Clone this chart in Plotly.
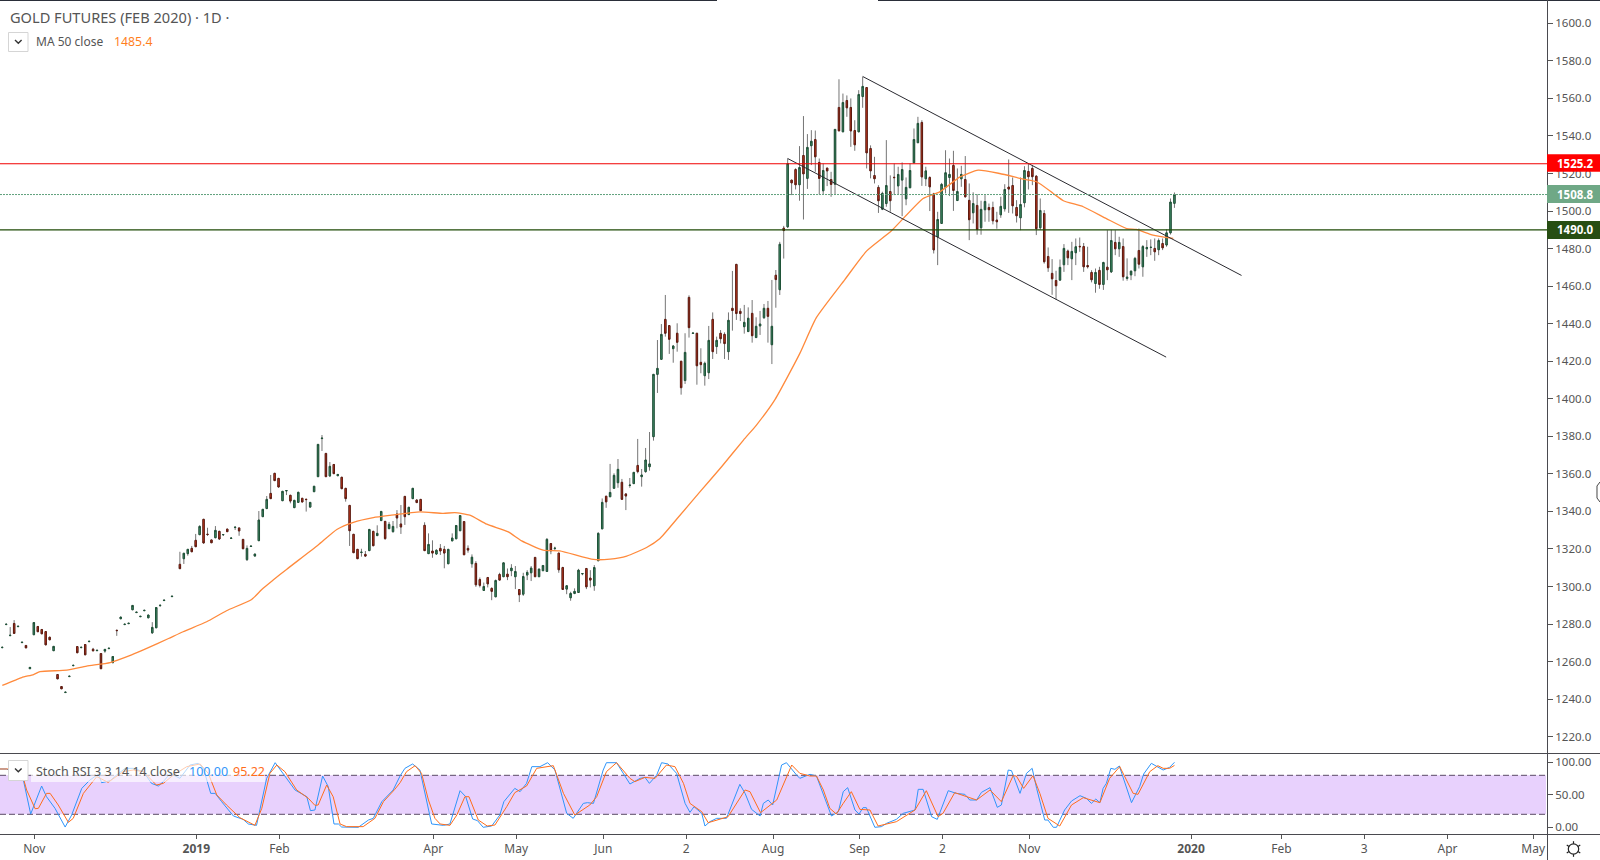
import math
import plotly.graph_objects as go

N = None
# Daily candles (bar number = position in the list)
open_ = [
1267.4,1279.7,1273.8,1280.3,1278.6,1270.1,1268.6,1256.2,1274.3,1278.7,
1277.1,1276.0,1273.0,1265.8,1253.1,1246.7,1243.5,1252.0,1257.8,1268.0,
1267.4,1269.1,1270.6,1266.6,1265.8,1264.3,1265.6,1266.9,1259.4,1276.7,
1282.8,1279.7,1280.2,1287.6,1286.1,1283.9,1287.1,1283.3,1275.3,1278.0,
1289.8,1292.5,N,1294.6,N,1311.8,1314.8,1317.5,1320.3,1324.6,
1327.6,1335.8,1327.9,1324.8,1326.0,1329.4,1327.5,1330.6,1325.6,1331.4,
1331.2,1325.1,1314.3,1321.3,1316.2,1324.4,1337.2,1341.5,1349.6,1360.3,
1357.6,1345.7,1350.9,1348.6,1342.0,1344.8,1347.0,1346.5,1342.3,1350.5,
1358.5,1378.8,1370.9,1358.9,1365.0,1359.0,1358.2,1352.3,1343.2,1327.8,
1319.8,1318.1,1317.1,1319.1,1329.4,1327.1,1335.1,1334.7,1330.8,1329.2,
1338.6,1333.3,1348.0,1338.3,1346.8,1346.1,1346.4,1332.6,1317.5,1318.9,
1317.3,1320.3,1319.8,1312.1,1324.3,1325.4,1329.7,1334.6,1320.3,1312.1,
1312.3,1303.7,1297.9,1304.8,1299.0,1294.5,1306.4,1305.2,1306.6,1308.4,
1305.2,1298.4,1295.9,1306.1,1307.3,1315.5,1305.2,1308.4,1308.0,1322.9,
1320.2,1317.8,1310.1,1298.6,1294.0,1296.3,1296.8,1306.7,1309.6,1304.5,
1300.4,1313.7,1330.7,1348.1,1347.8,1352.3,1355.3,1355.5,1349.3,1353.8,
1354.8,1364.5,1358.5,1361.2,1363.8,1379.8,1413.0,1421.0,1442.3,1439.0,
1426.7,1434.9,1420.0,1409.7,1454.0,1434.8,1434.9,1419.4,1412.3,1413.9,
1442.3,1427.8,1434.9,1434.3,1425.1,1448.2,1471.6,1446.6,1438.4,1435.8,
1445.5,1432.6,1438.8,1443.2,1448.2,1428.8,1465.8,1458.1,1490.9,1491.6,
1516.5,1522.1,1514.0,1529.6,1517.4,1534.8,1538.1,1525.9,1510.8,1522.9,
1516.8,1514.3,1555.2,1542.2,1558.9,1555.2,1542.9,1542.2,1561.0,1565.8,
1533.3,1518.9,1512.6,1501.0,1504.0,1510.4,1518.0,1513.4,1516.5,1506.5,
1512.4,1525.7,1536.4,1547.2,1517.2,1517.9,1509.2,1486.3,1493.4,1512.6,
1517.9,1524.3,1505.6,1517.2,1516.8,1505.7,1499.1,1503.0,1491.1,1500.7,
1501.9,1501.9,1495.2,1498.0,1501.2,1512.8,1513.6,1501.9,1496.4,1504.4,
1521.1,1522.7,1518.6,1491.1,1498.7,1475.8,1466.8,1463.0,1463.2,1471.4,
1478.7,1474.6,1477.8,1481.2,1481.1,1471.0,1467.3,1461.4,1468.4,1460.9,
1470.1,1467.6,1483.3,1479.9,1481.1,1464.1,1466.0,1468.2,1479.0,1470.3,
1479.9,1480.6,1480.1,1479.4,1482.7,1481.9,1488.4,1504.1]
high = [
N,N,1278.4,1282.1,N,N,N,N,N,N,
N,N,N,N,N,N,N,N,N,N,
N,N,N,1267.3,N,N,N,N,N,N,
N,N,N,N,N,N,N,N,1281.0,N,
N,N,N,N,N,1318.5,N,N,1321.6,1328.0,
1332.6,N,1331.3,N,1332.2,N,N,N,N,N,
N,N,1321.9,N,N,1340.2,N,1348.2,1359.4,N,
N,N,1351.2,N,N,N,N,N,N,N,
N,1380.7,N,1366.3,N,N,N,N,N,N,
N,1320.1,1318.9,N,N,1332.6,N,N,1334.4,1334.9,
1340.7,1343.4,N,N,N,N,N,1334.2,1328.3,1324.6,
1319.8,1322.6,1321.6,N,1328.3,N,N,N,1321.9,1317.1,
1313.5,1304.8,1302.1,N,1299.5,1303.7,1307.3,N,1309.6,1311.9,
1310.9,N,1307.3,1308.7,1310.9,N,N,N,1325.8,N,
1321.2,N,1310.5,N,1297.2,1299.0,1309.4,1307.1,N,1308.7,
1311.4,1328.9,1346.9,N,1365.3,1360.3,1367.9,1357.3,1349.6,1357.8,
N,1378.6,1362.6,1373.8,1382.3,N,1431.3,1439.8,1455.3,N,
1428.6,1440.2,N,1434.9,1455.1,N,N,1426.9,1419.8,1438.8,
1446.0,1433.1,1436.6,1435.4,1446.0,1468.1,N,1448.2,1450.0,1448.7,
1452.6,1443.4,1446.8,1450.5,1452.1,1463.3,1468.6,1483.6,1492.1,1528.0,
N,1522.8,1534.6,1550.6,1541.0,1543.1,1542.9,1528.0,1525.3,N,
1520.9,N,1570.2,1562.6,1561.6,1560.0,1548.4,1564.4,1571.5,N,
1535.0,1528.9,1513.8,1510.3,1537.8,1519.0,1525.3,1523.6,1525.9,1517.9,
1525.3,1544.0,1550.2,1548.4,1523.6,1518.5,1509.7,1499.6,1515.0,1532.4,
1528.0,1532.1,1522.7,1524.1,1529.3,1514.7,1510.0,1509.0,1505.5,1508.5,
1504.0,1505.0,1499.6,1507.6,1514.3,1527.5,1517.9,1505.8,1517.9,1523.9,
1525.4,1524.5,1519.0,1506.7,1500.5,1480.6,1474.4,1468.2,1474.2,1482.4,
1479.5,1483.6,1485.4,1485.9,1483.0,1481.0,1468.5,1469.4,1470.3,1473.0,
1489.8,1490.0,1489.8,1486.3,1485.4,1474.8,1468.2,1475.6,1490.7,1481.9,
1484.5,1484.9,1485.4,1485.4,1485.4,1490.2,1506.7,1509.9]
low = [
N,N,N,N,N,N,N,N,N,N,
N,N,N,N,N,N,N,N,N,N,
N,N,N,N,N,N,1264.7,N,N,1273.7,
N,N,N,N,N,N,N,N,1274.8,N,
1289.2,N,N,N,N,N,1312.0,1316.4,N,N,
N,1322.8,1326.9,N,1325.7,1324.8,1327.0,N,N,1330.1,
1327.0,N,1313.6,N,N,N,N,N,N,N,
1352.7,N,1348.7,1344.3,N,N,N,1339.9,1342.0,N,
N,1372.2,N,1358.3,N,N,N,1345.2,1321.6,N,
N,1315.9,1315.7,N,N,N,N,1324.9,N,1328.7,
1331.0,1328.0,1332.8,N,N,N,N,N,N,1315.3,
1316.8,1316.8,1309.7,N,N,N,N,N,1318.0,1310.0,
1299.8,1299.5,N,1299.5,1292.7,N,N,N,1303.4,1305.5,
1298.6,1291.7,1295.0,1303.4,1302.9,N,N,N,N,1317.2,
1319.2,1307.3,N,1295.9,1292.4,1295.9,N,1306.0,1298.6,1299.5,
1297.7,N,N,1341.9,N,N,1352.6,N,1340.7,1352.6,
N,1360.3,1353.2,1360.6,1361.7,1377.7,1403.1,N,1433.1,1423.9,
1419.2,1425.1,1402.2,1407.9,1432.6,N,1407.5,1413.6,1407.0,1410.5,
1421.2,1423.9,1429.5,1421.2,1420.7,1436.3,1442.0,1441.4,1434.7,N,
1429.9,N,1434.0,1442.5,1429.9,1418.5,1448.5,1455.3,1474.7,1491.0,
1508.5,1511.5,1505.5,1495.5,1511.8,1524.5,1520.9,1508.8,1508.8,1513.3,
1507.6,1508.8,N,N,1550.2,1534.2,1532.1,N,1555.0,1522.7,
1517.4,1514.7,1499.0,1500.5,1502.3,1499.6,1508.5,1509.0,1497.3,1503.1,
N,N,N,1513.4,1513.3,1500.0,1477.4,1471.2,N,1509.4,
1508.0,1500.1,1505.4,1512.9,1507.2,1484.5,1493.4,1487.4,1487.4,1494.3,
1494.3,1492.9,1490.6,1496.4,1499.7,1499.0,1498.7,1493.9,1489.8,1502.0,
1511.5,1513.8,1487.2,1490.0,1472.0,1467.6,1455.4,1452.9,1463.0,1467.6,
1471.2,1463.2,1471.2,1478.3,1467.6,1469.4,1462.0,1456.5,1458.6,1458.0,
1463.2,1467.0,1476.5,1475.6,1462.9,1462.9,1463.2,1465.3,1469.4,1465.0,
1475.6,1476.5,1473.5,1476.5,1479.2,1481.0,1487.5,1501.7]
close = [
1267.6,1279.9,1274.0,1275.0,1278.8,1270.3,1267.3,1256.9,1280.8,1275.9,
1274.8,1268.9,1271.6,1268.1,1250.8,1245.5,1243.7,1252.2,1258.0,1264.7,
1267.6,1263.6,1270.8,1265.7,1266.0,1256.2,1266.5,1267.1,1262.7,1276.5,
1283.7,1279.9,1280.4,1289.9,1286.3,1284.1,1287.3,1284.8,1278.2,1288.8,
1290.0,1292.7,N,1294.8,N,1309.5,1317.7,1319.8,1318.5,1321.2,
1332.0,1323.2,1327.7,1323.3,1329.9,1325.3,1327.7,1329.2,1325.8,1331.6,
1329.6,1320.1,1320.3,1321.5,1317.3,1335.4,1341.1,1346.4,1346.8,1356.4,
1353.0,1350.7,1351.1,1345.5,1345.9,1350.2,1345.0,1346.3,1344.8,1353.4,
1375.7,1379.0,1358.5,1364.0,1360.1,1359.7,1352.1,1346.8,1329.7,1318.0,
1314.8,1318.3,1316.2,1330.4,1321.7,1328.3,1340.0,1325.5,1333.1,1332.0,
1336.5,1331.7,1337.2,1342.2,1352.3,1344.7,1340.4,1319.1,1322.4,1317.8,
1319.3,1318.9,1317.8,1319.8,1325.8,1332.5,1337.8,1316.9,1319.4,1315.6,
1300.9,1300.6,1300.0,1301.4,1297.4,1303.2,1303.4,1312.6,1305.2,1309.8,
1308.0,1295.6,1305.3,1307.5,1309.8,1305.2,1309.3,1311.2,1325.1,1319.0,
1320.4,1308.9,1298.4,1300.4,1296.3,1297.4,1308.7,1306.9,1299.8,1303.4,
1310.1,1328.3,1344.8,1345.1,1350.1,1359.2,1362.4,1346.4,1348.2,1354.0,
1360.8,1361.2,1359.4,1367.4,1365.3,1413.0,1416.2,1434.3,1434.9,1431.7,
1428.1,1430.1,1405.9,1424.7,1437.9,1435.0,1417.6,1418.2,1418.9,1431.1,
1425.1,1431.1,1432.0,1429.4,1441.8,1447.0,1445.4,1445.4,1440.7,1442.9,
1433.6,1438.6,1439.8,1448.2,1443.9,1438.6,1463.5,1482.3,1489.6,1525.3,
1515.0,1514.0,1523.2,1519.8,1533.9,1537.2,1528.9,1517.4,1521.6,1521.4,
1514.2,1543.5,1542.7,1557.8,1555.0,1542.7,1535.3,1562.1,1566.4,1531.0,
1521.4,1517.2,1505.5,1509.4,1513.6,1505.5,1517.8,1519.5,1522.1,1512.6,
1521.6,1538.1,1546.7,1518.2,1521.4,1512.9,1479.3,1495.5,1514.2,1520.4,
1519.5,1511.0,1510.4,1519.5,1507.6,1495.4,1504.0,1490.2,1500.9,1505.1,
1500.7,1494.8,1494.3,1502.5,1511.5,1511.7,1502.8,1497.5,1503.5,1521.6,
1518.3,1518.3,1490.6,1500.3,1473.0,1469.8,1463.9,1460.2,1470.0,1480.1,
1475.1,1478.5,1481.0,1481.0,1470.3,1470.3,1463.4,1467.3,1460.9,1472.6,
1468.7,1484.3,1479.9,1483.3,1465.0,1464.8,1468.0,1474.8,1471.7,1481.1,
1480.6,1480.7,1478.3,1484.3,1480.4,1488.4,1504.8,1508.8]

# Moving average vertices
ma_bar = [0,4.8,7.7,9.3,15.9,20.8,26.6,31.9,35.2,41,44.6,50.4,55.3,61.5,64,66.8,70.1,77.9,82.5,86.6,91.5,95.6,
103,108.8,111.6,115.3,119.5,124.8,128.1,133.4,137.5,145.8,149.9,154,158.9,162.2,166.3,172.1,177.4,182.8,186,190.6,
196.7,200.7,207.8,213.2,219.3,227.1,231.2,236.2,240.7,246,251.8,255.1,259.2,261.7,266.6,272.3,277.3,279.7,283.8,288.8]
ma_val = [1247.3,1251.5,1253.1,1254.7,1255.4,1257.6,1259.5,1263.6,1266.6,1272.3,1275.9,1281.2,1287.1,1293.1,1298.4,1303.4,1309.1,1322.1,1330.4,1334.2,1336.7,1337.9,
1339.8,1338.9,1339.4,1338,1333.2,1329.1,1324.3,1319.4,1319,1314.4,1314.6,1316.2,1320.8,1325.6,1335.8,1350.5,1363.8,1378,1386,1399.7,
1424.2,1443,1463.5,1478.8,1489.5,1506.7,1510.2,1518.2,1521.8,1520,1517,1515.6,1509.4,1505.5,1502.3,1496,1490.7,1490.2,1487.2,1485.4]

# Stochastic RSI vertices
k_bar = [-.57,1.1,5.2,7,9.7,10.9,13,15.5,17.1,19.6,21.6,23.7,24.5,26.6,28.2,30.3,32.3,34.8,36.8,38.5,39.7,41.4,43.8,46.3,48.3,49.6,51.4,52.5,54.1,57,59.4,60.7,62.7,65.2,67.3,69.3,72.2,75.1,76,77.1,79,80.4,81.8,82.9,83.7,87.8,90.3,91.5,93.6,96.4,98.1,
99.3,101.2,103,105.9,108.8,110.4,112.9,114.3,116,117.2,118.6,120.7,122.7,123.7,126.4,127.7,129.3,130.6,132.6,134.5,136.3,139.2,140.8,143.3,144.3,145.8,148.2,149,151.5,154.8,157.3,158.5,159.6,161.4,162.6,164.2,166.3,168.4,169.6,170.6,172.5,173.3,174.5,176.2,178.6,181.9,183.2,184.8,186.9,187.7,188.9,190,192.2,193.4,195.9,
196.7,199.2,200.8,204.5,206.2,207.4,208.5,210.3,211.3,212.3,213.1,215.2,216.8,218.1,220.5,222.2,225.1,225.9,227.1,229.2,230.6,233.3,235.3,237.4,238.6,240.3,241.5,243.6,245.4,246.4,248.1,248.9,251,252.6,254,255.1,257.1,257.9,259.2,260,262,263.7,265.8,267.4,268.6,269.7,270.7,271.5,272.3,273.4,274.4,275.5,278.5,280.5,281.5,283.4,284.7,286.3,287.9,289.1]
k_val = [89.7,89.7,72.7,20.4,63.5,47.1,29.2,.4,18.9,59.9,72.7,82,68.6,71.7,80.4,90.7,90.7,85.6,67.6,63.5,70.2,83,75.3,95.8,98.4,90.7,52.2,52.2,39.4,17.4,12.2,5.1,3,75.3,99.4,83,57.4,47.1,25.6,26.6,78.9,62.5,5.1,5.1,.4,0,11.2,13.8,39.4,57.4,78.9,
90.7,97.4,88.1,5.1,3,5.1,56.3,47.1,12.8,10.2,0,2,18.9,39.4,59.9,54.8,67.6,93.3,93.3,99.4,88.1,21.5,13.8,36.8,37.9,36.8,88.1,99.4,99.4,66.6,75.3,76.8,67.6,80.4,99.4,97.4,83,36.8,23,31.7,21.5,2,8.6,13.8,13.8,66.1,52.2,27.6,17.4,36.8,42,34.3,95.8,99.4,80.4,
75.3,81.5,78.9,17.4,24,54.8,61,26.6,20.4,30.2,30.2,0,1,6.1,12.2,21.5,26.6,58.4,58.4,16.3,12.2,56.3,52.2,50.7,42,42,53.8,61,30.7,34.3,88.1,87.1,52.2,83,90.7,59.9,11.2,11.2,0,0,26.6,40.4,48.6,44.5,36.8,43.5,37.9,59.9,67.6,90.7,89.2,94.3,37.9,62.5,82,98.4,94.3,88.1,92.2,100]
d_bar = [-.6,2.7,5.2,6,8.1,8.9,10.9,11.8,13.8,16.3,17.5,20,23.3,26.1,29.8,32.3,34.8,38,39.7,42.2,45.5,48.8,50.8,52.9,55.3,58.6,62.3,64,66,67.7,69.7,72.6,75.5,77.1,77.9,80,81.6,83.3,84.9,89,91.9,94,96.8,
98.1,99.7,101.8,103.4,105.1,106.7,108,110.4,112.1,114.1,115.1,117.4,119.6,121.5,124.4,126.4,129.3,131.8,135.9,138.4,141.2,144.9,146.6,149,151.5,154.8,156,158.5,161,163.8,165.9,168,169.6,172.5,174.1,179,183.2,184.4,187,191,194.7,
196.7,199.2,200.8,202.5,204.1,205.7,207.4,209.4,211.5,214,216,220.5,225.1,227.9,230.8,232,234.9,240.3,243.6,246.4,249.3,250.1,251.9,254.2,255.9,257.9,260.8,263.7,266.6,270.7,273.1,275.6,278.9,280.1,283,285,286.3,287.9,289.1]
d_val = [89.7,89.7,75.3,57.4,28.6,29.2,52.2,52.2,34.3,7.6,13.8,52.2,77.9,69.2,85.6,88.1,85.6,65,67.6,80.4,93.3,97.4,83,49.7,34.3,14.8,3,29.2,83,95.8,85.6,57.4,44.5,33.8,34.3,65,47.1,5.1,1,1,13.8,39.4,58.4,
68.6,85.6,94.8,83,42,13.8,5.1,3,18.9,47.1,47.1,11.2,2,3.5,31.7,53.3,63.5,90.7,94.8,52.2,18.9,34.3,47.1,85.6,99.4,75.3,70.2,76.8,75.3,95.8,93.3,67.6,36.8,24,7.1,16.3,57.4,54.8,22.5,42,95.8,
83,78.9,78.9,57.4,29.2,20.4,36.8,54.8,27.6,26.6,2,8.6,26.6,56.3,16.3,21.5,53.3,42,57.4,39.4,79.4,78.9,59.9,79.4,52.2,13.8,2,34.3,45.6,37.9,75.3,93.3,52.2,50.7,85.6,94.8,90.7,90.7,95.22]

# Drawn channel (bar, price)
chan_up_bar = [218, 314]
chan_up_val = [1571.7, 1465.7]
chan_lo_bar = [199, 294.9]
chan_lo_val = [1528, 1422.2]

# Tick labels
price_ticks = list(range(1220, 1601, 20))
stoch_ticks = [0, 50, 100]
x_ticks = [8.1,49.15,70.2,109.2,130.2,152.3,173.3,195.3,217.2,238.2,260.2,301.2,324.1,345.1,366.2,387.9]
x_labels = ["Nov","<b>2019</b>","Feb","Apr","May","Jun","2","Aug","Sep","2","Nov","<b>2020</b>","Feb","3","Apr","May"]

LEVEL_RED, LEVEL_LAST, LEVEL_GREEN = 1525.2, 1508.8, 1490.0
TITLE = "GOLD FUTURES (FEB 2020) · 1D ·"

# Knot bars were read on a 4.055 px grid; candles sit on a 3.947 px grid.
GRID = 4.055 / 3.947
ma_x = [b * GRID for b in ma_bar]
k_x = [b * GRID for b in k_bar]
d_x = [b * GRID for b in d_bar]

bars = [i for i, o in enumerate(open_) if o is not None]
o = [open_[i] for i in bars]
c = [close[i] for i in bars]
h = [high[i] if high[i] is not None else max(open_[i], close[i]) for i in bars]
l = [low[i] if low[i] is not None else min(open_[i], close[i]) for i in bars]
top = [max(a, b) for a, b in zip(o, c)]
bot = [min(a, b) for a, b in zip(o, c)]

W, H = 1600, 860
PW, PH = 1547, 834
FONT = "Noto Sans"
def px(x): return x / PW
def py(y): return (PH - y) / PH

fig = go.Figure()
WICK = "#757575"
fig.add_trace(go.Candlestick(x=bars, open=o, high=h, low=l, close=c, name="wicks", hoverinfo="skip",
    increasing=dict(line=dict(color=WICK, width=1), fillcolor=WICK),
    decreasing=dict(line=dict(color=WICK, width=1), fillcolor=WICK), whiskerwidth=0))
fig.add_trace(go.Candlestick(x=bars, open=o, high=top, low=bot, close=c, name="bodies", hoverinfo="skip",
    increasing=dict(line=dict(color="#1d5237", width=1), fillcolor="#4f9f78"),
    decreasing=dict(line=dict(color="#5e1a10", width=1), fillcolor="#e4411f"), whiskerwidth=0))
fig.add_trace(go.Scatter(x=ma_x, y=ma_val, mode="lines", line=dict(color="#ff8a3c", width=1.3, shape="spline", smoothing=0.5), hoverinfo="skip"))
for bx, by in ((chan_up_bar, chan_up_val), (chan_lo_bar, chan_lo_val)):
    fig.add_trace(go.Scatter(x=bx, y=by, mode="lines", line=dict(color="#2a2a30", width=1), hoverinfo="skip"))
fig.add_trace(go.Scatter(x=k_x, y=k_val, mode="lines", yaxis="y2", line=dict(color="#2f95fa", width=1), hoverinfo="skip"))
fig.add_trace(go.Scatter(x=d_x, y=d_val, mode="lines", yaxis="y2", line=dict(color="#ff6d1a", width=1), hoverinfo="skip"))

shapes = []
def line_px(x0, y0, x1, y1, color="#4a4a4f", width=1):
    shapes.append(dict(type="line", xref="paper", yref="paper", x0=px(x0), x1=px(x1), y0=py(y0), y1=py(y1),
                       line=dict(color=color, width=width), layer="above"))
def rect_px(x0, y0, x1, y1, fill, line=None, opacity=1):
    shapes.append(dict(type="rect", xref="paper", yref="paper", x0=px(x0), x1=px(x1), y0=py(y0), y1=py(y1),
                       fillcolor=fill, line=dict(color=line or fill, width=1 if line else 0), opacity=opacity, layer="above"))
def path_px(pts, color="#333", width=1.4):
    d = "M" + " L".join(f"{px(a):.5f},{py(b):.5f}" for a, b in pts)
    shapes.append(dict(type="path", xref="paper", yref="paper", path=d, line=dict(color=color, width=width), layer="above"))

# stochastic band and its dashed limits
shapes.append(dict(type="rect", xref="paper", yref="y2", x0=0, x1=px(1546), y0=20, y1=80,
                   fillcolor="#e8d1fd", line=dict(width=0), layer="below"))
for lim in (20, 80):
    shapes.append(dict(type="line", xref="paper", yref="y2", x0=0, x1=px(1546), y0=lim, y1=lim,
                       line=dict(color="#5a4a66", width=1, dash="6px,3px"), layer="below"))
# horizontal levels
shapes.append(dict(type="line", xref="paper", yref="y", x0=0, x1=1, y0=LEVEL_RED, y1=LEVEL_RED, line=dict(color="#f00000", width=1)))
shapes.append(dict(type="line", xref="paper", yref="y", x0=0, x1=1, y0=LEVEL_LAST, y1=LEVEL_LAST, line=dict(color="#5fa07c", width=1, dash="2px,1px")))
shapes.append(dict(type="line", xref="paper", yref="y", x0=0, x1=1, y0=LEVEL_GREEN, y1=LEVEL_GREEN, line=dict(color="#1f4a06", width=1.3)))
# pane frame
line_px(0, 0.5, 717, 0.5, "#2a2e39"); line_px(878, 0.5, 1600, 0.5, "#2a2e39")
line_px(0, 753.5, 1600, 753.5); line_px(0, 834.5, 1600, 834.5)
line_px(1547.5, 0, 1547.5, 860)
# price tags
rect_px(1547, 154.3, 1600, 171.7, "#ff0000")
rect_px(1547, 185, 1600, 203, "#6fa886")
rect_px(1547, 221, 1600, 239, "#274e13")
# legend veil and chevron boxes
rect_px(31, 761, 265, 782, "#ffffff", opacity=0.65)
rect_px(8.5, 32.5, 28, 51.5, "#ffffff", line="#d5d5d5")
rect_px(8.5, 760.5, 28, 780.5, "#ffffff", line="#d5d5d5")
path_px([(15, 40), (18.3, 43.3), (21.6, 40)])
path_px([(15, 768.5), (18.3, 771.8), (21.6, 768.5)])
# settings gear and cursor sliver at the right edge
GX, GY, GR = 1573.5, 849, 5.2
shapes.append(dict(type="circle", xref="paper", yref="paper", x0=px(GX - GR), x1=px(GX + GR), y0=py(GY - GR), y1=py(GY + GR),
                   line=dict(color="#222", width=1.2), layer="above"))
for ang in range(0, 360, 60):
    a = math.radians(ang + 30)
    path_px([(GX + GR * math.cos(a), GY + GR * math.sin(a)), (GX + (GR + 2.6) * math.cos(a), GY + (GR + 2.6) * math.sin(a))], "#222", 1.2)
path_px([(1600, 482), (1597, 486), (1597, 498), (1600, 502)], "#444", 1)

def note(x, y, text, color="#555", size=12, anchor="left", family=FONT):
    return dict(xref="paper", yref="paper", x=px(x), y=py(y), text=text, showarrow=False, xanchor=anchor,
                yanchor="middle", font=dict(family=family, size=size, color=color))
annos = [
    note(7.5, 17.5, TITLE, "#555", 14.6),
    note(34, 41, "MA 50 close", "#555", 12),
    note(111.5, 41, "1485.4", "#ff7f1e", 12.3),
    note(34, 771, "Stoch RSI 3 3 14 14 close", "#555", 12.5),
    note(187, 771, "100.00", "#2f95fa", 12.5),
    note(231, 771, "95.22", "#ff6d1a", 12.5),
    note(1555, 163, "<b>1525.2</b>", "#ffffff", 11.5),
    note(1555, 194, "<b>1508.8</b>", "#ffffff", 11.5),
    note(1555, 230, "<b>1490.0</b>", "#ffffff", 11.5),
]

fig.update_layout(
    width=W, height=H, margin=dict(l=0, r=W - PW, t=0, b=H - PH),
    paper_bgcolor="#ffffff", plot_bgcolor="#ffffff", showlegend=False, boxmode="overlay", boxgap=0.5,
    font=dict(family=FONT, size=11.5, color="#555"), shapes=shapes, annotations=annos,
    xaxis=dict(domain=[0, 1], range=[-0.583, 391.4], anchor="y2", tickmode="array", tickvals=x_ticks, ticktext=x_labels,
               showgrid=False, zeroline=False, showline=False, ticks="outside", ticklen=4, tickcolor="#555",
               rangeslider=dict(visible=False), tickfont=dict(size=12, color="#555")),
    yaxis=dict(domain=[py(753), py(1)], range=[1211.3, 1611.9], side="right", anchor="x", tickmode="array",
               tickvals=price_ticks, ticktext=[f"{v:.1f}" for v in price_ticks], showgrid=False, zeroline=False,
               showline=False, ticks="outside", ticklen=5, tickcolor="#555"),
    yaxis2=dict(domain=[0, py(753)], range=[-10.3, 114.3], side="right", anchor="x", tickmode="array",
                tickvals=stoch_ticks, ticktext=[f"{v:.2f}" for v in stoch_ticks], showgrid=False, zeroline=False,
                showline=False, ticks="outside", ticklen=5, tickcolor="#555"),
)
fig.write_html("out.html", config={"displayModeBar": False}, post_script="document.body.style.margin='0';")
